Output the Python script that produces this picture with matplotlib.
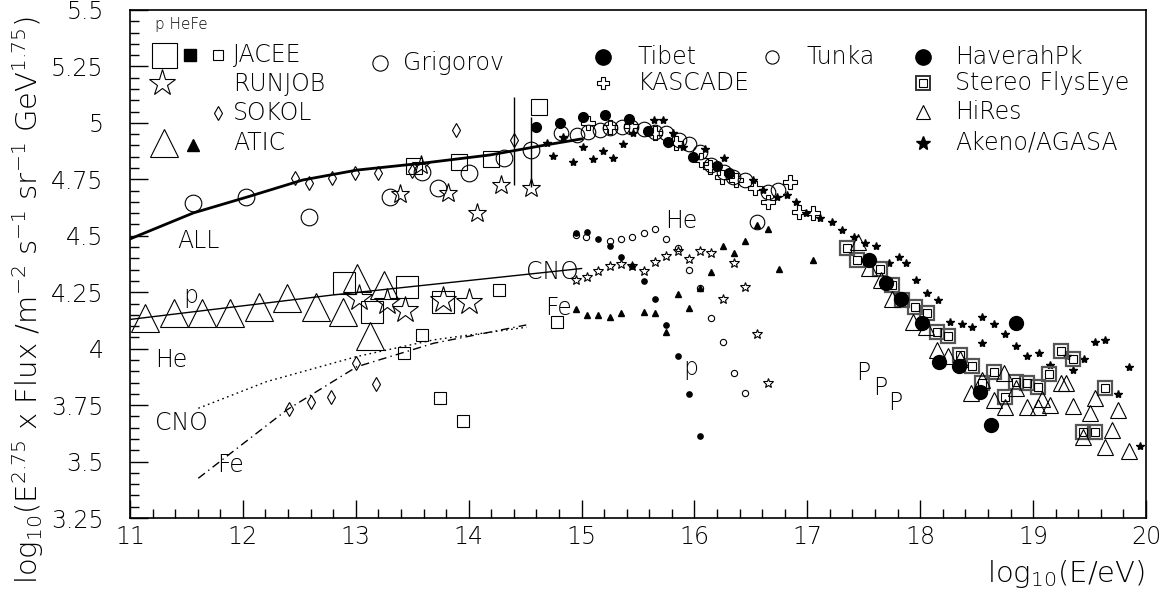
import matplotlib
matplotlib.use("Agg")
import matplotlib.pyplot as plt
from matplotlib import font_manager
from matplotlib.ticker import MultipleLocator, FormatStrFormatter

# pick a thin face if one is installed, ROOT text is drawn very light
family, weight = 'DejaVu Sans', 400
for name in ['DejaVu Sans', 'Open Sans', 'Noto Sans', 'Roboto', 'Lato', 'Inter']:
    light = [f.weight for f in font_manager.fontManager.ttflist
             if f.name == name and isinstance(f.weight, int) and 150 <= f.weight <= 300
             and f.style == 'normal']
    if light:
        family, weight = name, max(light)
        break
plt.rcParams['font.family'] = [family, 'DejaVu Sans']
plt.rcParams['font.weight'] = weight
plt.rcParams['mathtext.default'] = 'regular'

# model curves
all_x = [11.0, 11.56, 12.04, 12.53, 13.01, 13.60, 14.19, 14.68, 15.0]
all_y = [4.486, 4.601, 4.672, 4.747, 4.791, 4.822, 4.858, 4.902, 4.929]
p_x = [11.01, 12.80, 15.0]
p_y = [4.130, 4.238, 4.355]
cno_x = [11.605, 12.21, 13.008, 13.69, 14.514]
cno_y = [3.736, 3.854, 3.965, 4.039, 4.095]
fe_x = [11.605, 12.39, 13.01, 13.69, 14.51]
fe_y = [3.426, 3.729, 3.920, 4.024, 4.105]

# direct measurements, all particle
grig_x = [11.56, 12.03, 12.59, 13.30, 13.59, 13.73, 14.00, 14.31, 14.55]
grig_y = [4.644, 4.670, 4.585, 4.670, 4.781, 4.710, 4.780, 4.843, 4.880]
jacee_all_x = [13.52, 13.91, 14.20, 14.62]
jacee_all_y = [4.810, 4.828, 4.839, 5.072]
sokol_all_x = [12.46, 12.59, 12.79, 12.99, 13.20, 13.50, 13.89, 14.40]
sokol_all_y = [4.757, 4.735, 4.755, 4.777, 4.777, 4.788, 4.969, 4.924]
runjob_all_x = [13.39, 13.58, 13.82, 14.07, 14.29, 14.55]
runjob_all_y = [4.684, 4.814, 4.691, 4.600, 4.725, 4.710]
errbar_x = [14.40, 14.55]
errbar_lo = [4.725, 4.717]
errbar_hi = [5.116, 5.027]

# direct measurements, components
atic_p_x = [11.13, 11.39, 11.64, 11.89, 12.14, 12.39, 12.65, 12.89, 13.01, 13.25, 13.13]
atic_p_y = [4.137, 4.157, 4.157, 4.160, 4.183, 4.223, 4.183, 4.161, 4.313, 4.281, 4.055]
jacee_p_x = [12.90, 13.45, 13.14, 13.77]
jacee_p_y = [4.290, 4.275, 4.164, 4.208]
runjob_p_x = [13.03, 13.28, 13.44, 13.77, 14.00]
runjob_p_y = [4.223, 4.208, 4.171, 4.216, 4.208]
jacee_fe_x = [13.43, 13.59, 13.75, 13.95, 14.27, 14.78]
jacee_fe_y = [3.980, 4.061, 3.780, 3.681, 4.260, 4.120]
sokol_fe_x = [12.41, 12.60, 12.78, 13.00, 13.18]
sokol_fe_y = [3.732, 3.765, 3.787, 3.938, 3.844]

# air shower, all particle
tibet_x = [14.60, 14.81, 15.01, 15.21, 15.42, 15.59, 15.77, 15.99, 16.20, 16.31]
tibet_y = [4.980, 4.998, 5.025, 5.035, 5.016, 4.966, 4.917, 4.850, 4.809, 4.780]
tunka_x = [14.82, 14.96, 15.06, 15.16, 15.25, 15.36, 15.44, 15.55, 15.65, 15.75,
           15.86, 15.95, 16.05, 16.15, 16.26, 16.34, 16.45, 16.55, 16.65, 16.74]
tunka_y = [4.957, 4.946, 4.961, 4.969, 4.976, 4.980, 4.980, 4.972, 4.961, 4.954,
           4.924, 4.905, 4.872, 4.814, 4.784, 4.759, 4.747, 4.562, 4.695, 4.703]
kascade_x = [15.06, 15.25, 15.44, 15.65, 15.84, 16.06, 16.14, 16.24, 16.37, 16.54,
             16.65, 16.85, 16.93, 17.05]
kascade_y = [4.998, 4.983, 4.986, 4.954, 4.910, 4.836, 4.806, 4.759, 4.747, 4.710,
             4.651, 4.740, 4.607, 4.602]
akeno_x = [14.69, 14.75, 14.84, 14.92, 15.01, 15.10, 15.19, 15.28, 15.37, 15.46,
           15.64, 15.72, 15.81, 15.90, 16.09, 16.26, 16.52, 16.61, 16.73, 16.82,
           16.90, 16.99, 17.11, 17.22, 17.31, 17.41, 17.51, 17.61, 17.72, 17.81,
           17.87, 17.96, 18.06, 18.16, 18.26, 18.37, 18.46, 18.55, 18.55, 18.65,
           18.75, 18.85, 18.95, 19.05, 19.15, 19.30, 19.35, 19.45, 19.55, 19.64,
           19.75, 19.85, 19.95]
akeno_y = [4.910, 4.853, 4.939, 4.828, 4.895, 4.840, 4.877, 4.846, 4.905, 4.954,
           5.013, 5.013, 4.954, 4.895, 4.883, 4.843, 4.747, 4.703, 4.673, 4.681,
           4.648, 4.600, 4.578, 4.562, 4.526, 4.496, 4.467, 4.455, 4.381, 4.405,
           4.378, 4.304, 4.248, 4.216, 4.120, 4.109, 4.095, 4.142, 4.027, 4.109,
           4.064, 4.012, 3.968, 3.980, 3.926, 3.968, 3.906, 3.953, 4.031, 4.039,
           3.798, 3.920, 3.569]
haverah_x = [17.55, 17.70, 17.83, 18.02, 18.17, 18.34, 18.53, 18.63, 18.85]
haverah_y = [4.393, 4.292, 4.219, 4.112, 3.940, 3.925, 3.810, 3.662, 4.112]
flyseye_x = [17.35, 17.44, 17.64, 17.75, 17.84, 17.95, 18.06, 18.15, 18.25, 18.35,
             18.46, 18.55, 18.65, 18.75, 18.85, 18.95, 19.04, 19.14, 19.25, 19.35,
             19.44, 19.55, 19.64]
flyseye_y = [4.445, 4.393, 4.353, 4.282, 4.216, 4.183, 4.159, 4.073, 4.058, 3.972,
             3.925, 3.847, 3.898, 3.787, 3.854, 3.850, 3.832, 3.887, 3.991, 3.953,
             3.630, 3.630, 3.825]
hires_x = [17.45, 17.55, 17.65, 17.75, 17.94, 18.05, 18.15, 18.25, 18.35, 18.45,
           18.55, 18.65, 18.74, 18.75, 18.85, 18.95, 19.04, 19.08, 19.15, 19.25,
           19.29, 19.35, 19.44, 19.50, 19.55, 19.64, 19.70, 19.75, 19.85]
hires_y = [4.474, 4.356, 4.304, 4.220, 4.120, 4.097, 3.994, 3.968, 3.953, 3.803,
           3.861, 3.773, 3.891, 3.743, 3.825, 3.743, 3.743, 3.776, 3.751, 3.850,
           3.847, 3.746, 3.610, 3.717, 3.780, 3.566, 3.640, 3.729, 3.548]

# air shower, components
kp_x = [14.95, 15.05, 15.15, 15.25, 15.35, 15.45, 15.55, 15.65, 15.75, 15.85, 15.95, 16.05]
kp_y = [4.511, 4.515, 4.484, 4.455, 4.408, 4.366, 4.300, 4.220, 4.105, 3.968, 3.799, 3.613]
khe_x = [14.95, 15.04, 15.25, 15.35, 15.45, 15.55, 15.65, 15.75, 15.85, 15.95,
         16.05, 16.15, 16.25, 16.35, 16.45]
khe_y = [4.505, 4.493, 4.478, 4.484, 4.496, 4.511, 4.529, 4.486, 4.445, 4.349,
         4.270, 4.135, 4.031, 3.891, 3.805]
kcno_x = [14.95, 15.05, 15.15, 15.25, 15.35, 15.45, 15.55, 15.65, 15.75, 15.85,
          15.95, 16.05, 16.15, 16.25, 16.35, 16.45, 16.55, 16.65]
kcno_y = [4.304, 4.319, 4.346, 4.368, 4.374, 4.366, 4.346, 4.383, 4.411, 4.434,
          4.396, 4.433, 4.425, 4.219, 4.381, 4.275, 4.065, 3.850]
kfe_x = [14.95, 15.05, 15.15, 15.25, 15.35, 15.55, 15.65, 15.75, 15.85, 15.95,
         16.05, 16.15, 16.25, 16.35, 16.45, 16.55, 16.65, 16.75, 17.05]
kfe_y = [4.174, 4.149, 4.149, 4.142, 4.157, 4.164, 4.160, 4.075, 4.241, 4.182,
         4.270, 4.338, 4.455, 4.422, 4.477, 4.548, 4.530, 4.353, 4.393]

# curve labels: (text, x, y baseline)
labels = [("ALL", 11.42, 4.445), ("p", 11.47, 4.202), ("He", 11.22, 3.920),
          ("CNO", 11.22, 3.640), ("Fe", 11.77, 3.455), ("CNO", 14.51, 4.31),
          ("Fe", 14.68, 4.149), ("He", 15.74, 4.533), ("p", 15.90, 3.884),
          ("P", 17.43, 3.861), ("P", 17.58, 3.795), ("P", 17.72, 3.729)]

FS = 17
TS = 21
fig = plt.figure(figsize=(11.67, 6.0), dpi=100)
ax = fig.add_axes([130 / 1167, 82 / 600, 1016 / 1167, 508 / 600])

ax.plot(all_x, all_y, color='black', lw=2.0)
ax.plot(p_x, p_y, color='black', lw=1.0)
ax.plot(cno_x, cno_y, color='black', lw=1.0, ls=(0, (1.2, 2.5)))
ax.plot(fe_x, fe_y, color='black', lw=1.0, ls=(0, (6, 3, 1, 3)))
ax.vlines(errbar_x, errbar_lo, errbar_hi, color='black', lw=1.0)

op = dict(ls='none', mfc='none', mec='black', mew=0.8)
fl = dict(ls='none', color='black')

ax.plot(grig_x, grig_y, 'o', ms=12, **op)
ax.plot(jacee_all_x, jacee_all_y, 's', ms=11, **op)
ax.plot(sokol_all_x, sokol_all_y, 'd', ms=7.5, **op)
ax.plot(runjob_all_x, runjob_all_y, '*', ms=14, **op)
ax.plot(atic_p_x, atic_p_y, '^', ms=20, **op)
ax.plot(jacee_p_x, jacee_p_y, 's', ms=16.5, **op)
ax.plot(runjob_p_x, runjob_p_y, '*', ms=20, **op)
ax.plot(jacee_fe_x, jacee_fe_y, 's', ms=8.5, **op)
ax.plot(sokol_fe_x, sokol_fe_y, 'd', ms=7.5, **op)

ax.plot(tunka_x, tunka_y, 'o', ms=10.5, **op)
ax.plot(tibet_x, tibet_y, 'o', ms=7, **fl)
ax.plot(kascade_x, kascade_y, 'P', ms=10, **op)
ax.plot(akeno_x, akeno_y, '*', ms=6, **fl)
ax.plot(flyseye_x, flyseye_y, 's', ms=9.5, ls='none', mfc='none', mec='#555555', mew=1.6)
ax.plot(flyseye_x, flyseye_y, 's', ms=5.5, **op)
ax.plot(hires_x, hires_y, '^', ms=11, **op)
ax.plot(haverah_x, haverah_y, 'o', ms=10, **fl)

ax.plot(kp_x, kp_y, 'o', ms=3.8, **fl)
ax.plot(khe_x, khe_y, 'o', ms=4.5, **op)
ax.plot(kcno_x, kcno_y, '*', ms=7, **op)
ax.plot(kfe_x, kfe_y, '^', ms=5, **fl)

for txt, lx, ly in labels:
    ax.text(lx, ly, txt, fontsize=FS, va='baseline', ha='left')

# legend, drawn the ROOT way
T = ax.transAxes
ax.text(0.0246, 0.9705, "p HeFe", transform=T, fontsize=11, va='center')
ax.plot([0.0335], [0.9114], 's', ms=18, transform=T, **op)
ax.plot([0.0591], [0.9114], 's', ms=8.5, transform=T, **fl)
ax.plot([0.0866], [0.9114], 's', ms=7.5, transform=T, **op)
ax.plot([0.0315], [0.8563], '*', ms=20, transform=T, **op)
ax.plot([0.0866], [0.7972], 'd', ms=7.5, transform=T, **op)
ax.plot([0.0335], [0.7382], '^', ms=20, transform=T, **op)
ax.plot([0.0620], [0.7340], '^', ms=9, transform=T, **fl)
ax.plot([0.2460], [0.8957], 'o', ms=11, transform=T, **op)
ax.plot([0.4656], [0.9075], 'o', ms=11, transform=T, **fl)
ax.plot([0.6319], [0.9075], 'o', ms=9.5, transform=T, **op)
ax.plot([0.7805], [0.9075], 'o', ms=11, transform=T, **fl)
ax.plot([0.4656], [0.8563], 'P', ms=9, transform=T, **op)
ax.plot([0.7805], [0.8563], 's', ms=9.5, transform=T, ls='none', mfc='none', mec='#333333', mew=1.4)
ax.plot([0.7805], [0.8563], 's', ms=5.5, transform=T, **op)
ax.plot([0.7805], [0.7992], '^', ms=10, transform=T, **op)
ax.plot([0.7805], [0.7382], '*', ms=10, transform=T, **fl)

leg_text = [("JACEE", 0.1014, 0.9114), ("RUNJOB", 0.1014, 0.8543), ("SOKOL", 0.1014, 0.7972),
            ("ATIC", 0.1014, 0.7382), ("Grigorov", 0.2687, 0.8957), ("Tibet", 0.5, 0.9075),
            ("Tunka", 0.6663, 0.9075), ("HaverahPk", 0.812, 0.9075), ("KASCADE", 0.5, 0.8563),
            ("Stereo FlysEye", 0.812, 0.8563), ("HiRes", 0.812, 0.7992),
            ("Akeno/AGASA", 0.812, 0.7382)]
for txt, lx, ly in leg_text:
    ax.text(lx, ly, txt, transform=T, fontsize=FS, va='center', ha='left')

ax.set_xlim(11, 20)
ax.set_ylim(3.25, 5.5)
ax.xaxis.set_major_locator(MultipleLocator(1))
ax.xaxis.set_minor_locator(MultipleLocator(0.2))
ax.yaxis.set_major_locator(MultipleLocator(0.25))
ax.yaxis.set_minor_locator(MultipleLocator(0.05))
ax.xaxis.set_major_formatter(FormatStrFormatter('%g'))
ax.yaxis.set_major_formatter(FormatStrFormatter('%g'))
ax.tick_params(which='both', direction='in', top=False, right=False, width=1.0)
ax.tick_params(which='major', length=13, labelsize=FS)
ax.tick_params(which='minor', length=6.5)
ax.tick_params(axis='y', which='major', pad=19)
ax.tick_params(axis='x', which='major', pad=5)
for s in ax.spines.values():
    s.set_linewidth(1.2)

fig.text(0.024, 0.500, r'log$_{10}$(E$^{2.75}$ x Flux /m$^{-2}$ s$^{-1}$ sr$^{-1}$ GeV$^{1.75}$)',
         rotation=90, fontsize=TS, va='center', ha='center')
fig.text(0.981, 0.043, r'log$_{10}$(E/eV)', fontsize=TS, va='center', ha='right')

fig.savefig('out.png', dpi=100)
